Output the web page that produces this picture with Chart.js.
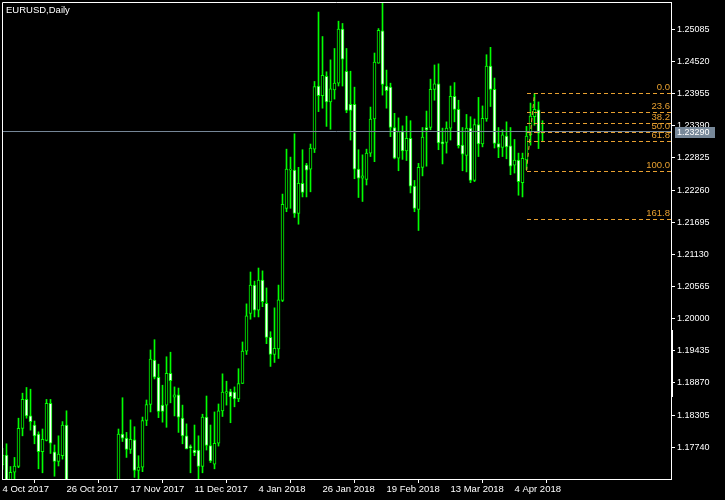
<!DOCTYPE html>
<html>
<head>
<meta charset="utf-8">
<script src="https://cdn.jsdelivr.net/npm/chart.js@4.4.1/dist/chart.umd.min.js"></script>
<style>
  html, body { margin: 0; padding: 0; background: #000; }
  canvas { display: block; background: #000; }
</style>
</head>
<body>
<canvas id="chart" width="725" height="500"></canvas>
<script>
// EURUSD daily, one entry per bar: index 0 = 4 Oct 2017 ... 135 = 13 Apr 2018
// null = bar lies wholly below the visible price range (late Oct / early Nov)
const opens = [
  1.1743, 1.1760, 1.1707, 1.1730, 1.1740, 1.1807, 1.1858, 1.1829, 1.1813, 1.1797,
  1.1766, 1.1786, 1.1851, 1.1766, 1.1749, 1.1759, 1.1813, null, null, null,
  null, null, null, null, null, null, null, null, null, 1.1665,
  1.1797, 1.1790, 1.1770, 1.1787, 1.1733, 1.1739, 1.1821, 1.1849, 1.1927, 1.1897,
  1.1848, 1.1848, 1.1904, 1.1862, 1.1866, 1.1825, 1.1794, 1.1775, 1.1769, 1.1769,
  1.1740, 1.1827, 1.1777, 1.1744, 1.1781, 1.1838, 1.1869, 1.1872, 1.1871, 1.1859,
  1.1886, 1.1943, 1.2009, 1.2059, 1.2015, 1.2068, 1.2027, 1.1967, 1.1937, 1.1947,
  1.2032, 1.2194, 1.2261, 1.2261, 1.2185, 1.2238, 1.2270, 1.2263, 1.2298, 1.2409,
  1.2392, 1.2426, 1.2381, 1.2402, 1.2414, 1.2509, 1.2435, 1.2377, 1.2377, 1.2263,
  1.2247, 1.2245, 1.2291, 1.2351, 1.2449, 1.2506, 1.2409, 1.2407, 1.2336, 1.2282,
  1.2329, 1.2295, 1.2317, 1.2233, 1.2192, 1.2266, 1.2336, 1.2336, 1.2403, 1.2413,
  1.2311, 1.2310, 1.2335, 1.2391, 1.2368, 1.2305, 1.2287, 1.2335, 1.2243, 1.2341,
  1.2307, 1.2351, 1.2444, 1.2403, 1.2308, 1.2301, 1.2321, 1.2304, 1.2270, 1.2279,
  1.2239, 1.2279, 1.2323, 1.2355, 1.2367, 1.2326
];
const highs = [
  1.1772, 1.1780, 1.1740, 1.1756, 1.1825, 1.1869, 1.1879, 1.1876, 1.1820, 1.1801,
  1.1806, 1.1858, 1.1858, 1.1778, 1.1794, 1.1819, 1.1838, null, null, null,
  null, null, null, null, null, null, null, null, null, 1.1806,
  1.1861, 1.1800, 1.1822, 1.1810, 1.1759, 1.1827, 1.1857, 1.1945, 1.1963, 1.1920,
  1.1883, 1.1933, 1.1941, 1.1880, 1.1878, 1.1848, 1.1815, 1.1778, 1.1813, 1.1794,
  1.1832, 1.1864, 1.1813, 1.1836, 1.1850, 1.1903, 1.1890, 1.1876, 1.1880, 1.1912,
  1.1959, 1.2026, 1.2082, 1.2066, 1.2089, 1.2084, 1.2054, 1.1977, 1.2019, 1.2059,
  1.2219, 1.2298, 1.2284, 1.2325, 1.2266, 1.2297, 1.2273, 1.2307, 1.2417, 1.2539,
  1.2496, 1.2434, 1.2455, 1.2475, 1.2523, 1.2519, 1.2475, 1.2435, 1.2407, 1.2297,
  1.2288, 1.2298, 1.2372, 1.2467, 1.2510, 1.2556, 1.2437, 1.2414, 1.2361, 1.2353,
  1.2339, 1.2356, 1.2348, 1.2243, 1.2273, 1.2336, 1.2365, 1.2421, 1.2446, 1.2448,
  1.2335, 1.2346, 1.2409, 1.2415, 1.2384, 1.2336, 1.2359, 1.2355, 1.2351, 1.2389,
  1.2374, 1.2464, 1.2477, 1.2423, 1.2336, 1.2332, 1.2346, 1.2336, 1.2315, 1.2291,
  1.2291, 1.2338, 1.2379, 1.2396, 1.2381, 1.2348
];
const lows = [
  1.1735, 1.1697, 1.1690, 1.1712, 1.1738, 1.1794, 1.1825, 1.1804, 1.1780, 1.1736,
  1.1729, 1.1785, 1.1763, 1.1723, 1.1741, 1.1753, 1.1640, null, null, null,
  null, null, null, null, null, null, null, null, null, 1.1655,
  1.1784, 1.1756, 1.1763, 1.1721, 1.1715, 1.1731, 1.1812, 1.1836, 1.1894, 1.1826,
  1.1818, 1.1809, 1.1852, 1.1829, 1.1800, 1.1780, 1.1771, 1.1729, 1.1759, 1.1716,
  1.1729, 1.1769, 1.1747, 1.1736, 1.1776, 1.1828, 1.1848, 1.1817, 1.1845, 1.1854,
  1.1886, 1.1937, 1.1999, 1.2003, 1.2003, 1.2021, 1.1956, 1.1916, 1.1923, 1.1930,
  1.2030, 1.2188, 1.2194, 1.2178, 1.2166, 1.2214, 1.2214, 1.2223, 1.2292, 1.2364,
  1.2370, 1.2338, 1.2333, 1.2386, 1.2409, 1.2409, 1.2362, 1.2314, 1.2246, 1.2213,
  1.2206, 1.2235, 1.2285, 1.2276, 1.2449, 1.2393, 1.2370, 1.2320, 1.2281, 1.2260,
  1.2280, 1.2278, 1.2221, 1.2188, 1.2155, 1.2251, 1.2268, 1.2332, 1.2384, 1.2297,
  1.2272, 1.2291, 1.2314, 1.2346, 1.2300, 1.2260, 1.2258, 1.2239, 1.2241, 1.2285,
  1.2302, 1.2347, 1.2373, 1.2300, 1.2283, 1.2285, 1.2281, 1.2253, 1.2256, 1.2217,
  1.2214, 1.2262, 1.2305, 1.2340, 1.2299, 1.2311
];
const closes = [
  1.1760, 1.1706, 1.1730, 1.1741, 1.1807, 1.1858, 1.1829, 1.1819, 1.1794, 1.1766,
  1.1788, 1.1851, 1.1781, 1.1749, 1.1762, 1.1813, 1.1655, null, null, null,
  null, null, null, null, null, null, null, null, null, 1.1797,
  1.1790, 1.1770, 1.1788, 1.1733, 1.1739, 1.1821, 1.1849, 1.1929, 1.1897, 1.1837,
  1.1837, 1.1904, 1.1891, 1.1866, 1.1827, 1.1794, 1.1771, 1.1773, 1.1764, 1.1740,
  1.1827, 1.1777, 1.1750, 1.1781, 1.1838, 1.1871, 1.1872, 1.1863, 1.1859, 1.1886,
  1.1943, 1.2005, 1.2059, 1.2015, 1.2068, 1.2030, 1.1967, 1.1937, 1.1948, 1.2033,
  1.2201, 1.2263, 1.2263, 1.2185, 1.2238, 1.2222, 1.2261, 1.2300, 1.2408, 1.2392,
  1.2428, 1.2381, 1.2404, 1.2414, 1.2509, 1.2456, 1.2366, 1.2366, 1.2263, 1.2247,
  1.2251, 1.2291, 1.2351, 1.2451, 1.2507, 1.2412, 1.2401, 1.2336, 1.2282, 1.2329,
  1.2295, 1.2317, 1.2233, 1.2194, 1.2266, 1.2319, 1.2332, 1.2403, 1.2413, 1.2309,
  1.2307, 1.2335, 1.2391, 1.2368, 1.2304, 1.2289, 1.2335, 1.2243, 1.2341, 1.2307,
  1.2352, 1.2444, 1.2403, 1.2308, 1.2301, 1.2323, 1.2302, 1.2268, 1.2279, 1.2241,
  1.2282, 1.2321, 1.2356, 1.2368, 1.2326, 1.2329
];

const dateTicks = [0, 16, 32, 48, 64, 80, 96, 112, 128];
const dateLabels = ['4 Oct 2017', '26 Oct 2017', '17 Nov 2017', '11 Dec 2017', '4 Jan 2018',
                    '26 Jan 2018', '19 Feb 2018', '13 Mar 2018', '4 Apr 2018'];
const priceTicks = [1.17740, 1.18305, 1.18870, 1.19435, 1.20000, 1.20565, 1.21130,
                    1.21695, 1.22260, 1.22825, 1.23390, 1.23955, 1.24520, 1.25085];
const bidPrice = 1.23290;

// fibonacci retracement drawn from bar 131 (low) to bar 133 (high)
const fibLevels = ['0.0', '23.6', '38.2', '50.0', '61.8', '100.0', '161.8'];
const fibPrices = [1.23960, 1.23639, 1.23440, 1.23280, 1.23120, 1.22600, 1.21760];
const fibFrom = { x: 131, y: 1.22600 };
const fibTo = { x: 133, y: 1.23960 };

// white marker on the price scale
const scaleMark = [1.18620, 1.19800];

const X_MIN = -0.125, X_MAX = 167.125;
const Y_MIN = 1.17181, Y_MAX = 1.25567;
const GREEN = '#00ff00';
const FIB = '#e8a030';
const GREY = '#778899';
const FONT = { family: 'Liberation Sans, Arial, sans-serif', size: 9.5 };

const wicks = [], bodies = [], fills = [];
for (let i = 0; i < opens.length; i++) {
  if (opens[i] === null) continue;
  wicks.push({ x: i, y: [lows[i], highs[i]] });
  bodies.push({ x: i, y: [opens[i], closes[i]] });
  fills.push(closes[i] >= opens[i] ? '#000000' : '#ffffff');
}

const lineSet = (data, color, dash) => ({
  type: 'line',
  data: data,
  borderColor: color,
  borderWidth: 1,
  borderDash: dash || [],
  pointRadius: 0,
  fill: false,
  tension: 0,
  clip: 0,
  order: 0
});

const datasets = [
  { type: 'bar', data: wicks, backgroundColor: GREEN, borderWidth: 0,
    barThickness: 1, grouped: false, clip: 0, order: 3 },
  { type: 'bar', data: bodies, backgroundColor: fills, borderColor: GREEN, borderWidth: 1,
    borderSkipped: false, barThickness: 3, minBarLength: 1, grouped: false, clip: 0, order: 2 },
  lineSet([{ x: X_MIN, y: bidPrice }, { x: X_MAX, y: bidPrice }], GREY),
  lineSet([fibFrom, fibTo], FIB, [4, 3])
];

// keep the plot box fixed: no extra room for half tick labels
const noPad = s => { s.paddingTop = 0; s.paddingBottom = 0; s.paddingLeft = 0; s.paddingRight = 0; };

const mtDecor = {
  id: 'mtDecor',
  afterDatasetsDraw(chart) {
    const ctx = chart.ctx, a = chart.chartArea, xs = chart.scales.x, ys = chart.scales.y;
    ctx.save();
    // fibo level lines, snapped to whole pixels so the dashes stay crisp
    ctx.strokeStyle = FIB;
    ctx.lineWidth = 1;
    ctx.setLineDash([4, 3]);
    const x0 = Math.round(xs.getPixelForValue(fibFrom.x));
    fibPrices.forEach(p => {
      const y = Math.round(ys.getPixelForValue(p)) + 0.5;
      ctx.beginPath();
      ctx.moveTo(x0, y);
      ctx.lineTo(a.right, y);
      ctx.stroke();
    });
    ctx.setLineDash([]);
    ctx.font = '9.5px ' + FONT.family;
    ctx.fillStyle = FIB;
    ctx.textAlign = 'right';
    ctx.textBaseline = 'alphabetic';
    fibLevels.forEach((lbl, k) => {
      ctx.fillText(lbl, a.right - 1, Math.round(ys.getPixelForValue(fibPrices[k])) - 3);
    });
    ctx.restore();
  },
  afterDraw(chart) {
    const ctx = chart.ctx, a = chart.chartArea, ys = chart.scales.y;
    ctx.save();
    // frame on the left and top
    ctx.strokeStyle = '#ffffff';
    ctx.lineWidth = 1;
    ctx.beginPath();
    ctx.moveTo(a.left + 0.5, a.bottom);
    ctx.lineTo(a.left + 0.5, a.top + 0.5);
    ctx.lineTo(a.right, a.top + 0.5);
    ctx.stroke();

    // marker on the price scale
    const m1 = ys.getPixelForValue(scaleMark[1]), m2 = ys.getPixelForValue(scaleMark[0]);
    ctx.fillStyle = '#ffffff';
    ctx.fillRect(a.right, Math.round(m1), 2, Math.round(m2 - m1));

    // symbol title
    ctx.font = '9.5px ' + FONT.family;
    ctx.textAlign = 'left';
    ctx.textBaseline = 'alphabetic';
    ctx.fillText('EURUSD,Daily', a.left + 4, a.top + 11);

    // bid price label
    const py = Math.round(ys.getPixelForValue(bidPrice));
    ctx.fillStyle = GREY;
    ctx.fillRect(a.right + 4, py - 5, 40, 11);
    ctx.fillStyle = '#ffffff';
    ctx.font = '9px ' + FONT.family;
    ctx.textBaseline = 'middle';
    ctx.fillText(bidPrice.toFixed(5), a.right + 6, py + 0.5);
    ctx.restore();
  }
};

new Chart(document.getElementById('chart'), {
  type: 'bar',
  data: { datasets: datasets },
  plugins: [mtDecor],
  options: {
    responsive: false,
    animation: false,
    layout: { autoPadding: false, padding: { left: 2, top: 2, right: 0, bottom: 0 } },
    plugins: { legend: { display: false }, tooltip: { enabled: false } },
    scales: {
      x: {
        type: 'linear',
        min: X_MIN,
        max: X_MAX,
        offset: false,
        afterFit(s) { s.height = 21; noPad(s); },
        afterBuildTicks(s) { s.ticks = dateTicks.map(v => ({ value: v })); },
        ticks: {
          autoSkip: false, maxRotation: 0, align: 'start', padding: 1,
          color: '#ffffff', font: FONT,
          callback: v => dateLabels[dateTicks.indexOf(v)]
        },
        grid: { drawOnChartArea: false, tickLength: 4, color: '#ffffff' },
        border: { display: true, color: '#ffffff', width: 1 }
      },
      y: {
        type: 'linear',
        position: 'right',
        min: Y_MIN,
        max: Y_MAX,
        afterFit(s) { s.width = 54; noPad(s); },
        afterBuildTicks(s) { s.ticks = priceTicks.map(v => ({ value: v })); },
        ticks: {
          padding: 2, color: '#ffffff', font: { family: FONT.family, size: 9 },
          callback: v => v.toFixed(5)
        },
        grid: { drawOnChartArea: false, tickLength: 4, color: '#ffffff' },
        border: { display: true, color: '#ffffff', width: 1 }
      }
    }
  }
});
</script>
</body>
</html>
